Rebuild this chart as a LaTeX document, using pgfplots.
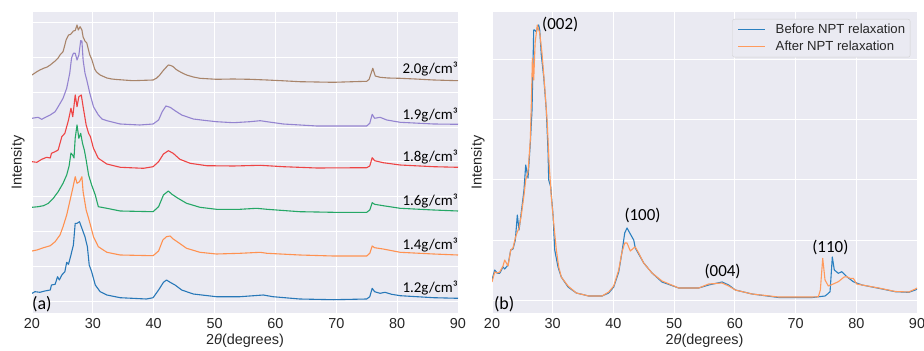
\documentclass[border=0pt]{standalone}
\usepackage{pgfplots}
\pgfplotsset{compat=1.18}
\usepackage{fontspec}
\setmainfont{Liberation Sans}
\newfontfamily\carlito{Carlito}
\definecolor{bgcol}{HTML}{EAEAF2}
\definecolor{cblue}{HTML}{2878B8}
\definecolor{corange}{HTML}{FF9150}
\definecolor{cgreen}{HTML}{25A766}
\definecolor{cred}{HTML}{EE4444}
\definecolor{cpurple}{HTML}{9484D0}
\definecolor{cbrown}{HTML}{A8846A}
\definecolor{rblue}{HTML}{2A80C0}
\definecolor{rorange}{HTML}{FF9A5C}
\definecolor{txt}{HTML}{262626}
\pgfplotsset{
  xrdstyle/.style={
    scale only axis, width=426bp, height=301bp,
    xmin=20, xmax=90, xtick={20,30,...,90},
    axis background/.style={fill=bgcol},
    grid=major, major grid style={white, line width=1bp},
    axis line style={draw=none},
    major tick length=0pt,
    yticklabels={},
    /pgf/number format/assume math mode=true,
    tick label style={font=\fontsize{14.5}{16}\selectfont, text=txt},
    xticklabel style={yshift=-2bp},
    label style={font=\fontsize{14.5}{16}\selectfont, text=txt},
    xlabel={2\textit{θ}(degrees)},
    ylabel={Intensity},
    xlabel style={yshift=2bp},
    ylabel style={yshift=-3bp},
    every axis plot/.append style={line width=1.1bp, mark=none, line join=round},
    clip=true,
  }
}
\begin{document}
\begin{tikzpicture}[x=1bp,y=1bp]
\useasboundingbox (0,0) rectangle (924,350);
% ---------------- left panel ----------------
\begin{axis}[xrdstyle, at={(32bp,37bp)}, anchor=south west,
  ymin=0, ymax=301, ytick={11.9,46.7,81.5,116.3,151.1,185.9,220.7,255.5,290.3}]
\addplot[cblue] coordinates {(20,19.7) (20.5,21.3) (21.3,20.7) (22.1,22) (23,23) (23.2,28) (23.8,28.7) (24.2,36.3) (24.5,33) (24.9,38) (25.4,41.3) (25.7,50.7) (26,48.7) (26.4,58) (26.8,68) (27.1,89.7) (27.4,89.7) (27.8,91.3) (28.2,84.7) (28.7,76.3) (29.1,66.3) (29.4,48) (29.8,41.3) (30.4,28) (31.2,21.3) (32.3,18) (34.5,15.3) (38.8,14) (39.9,15.3) (40.8,23) (41.6,30.7) (42.1,33) (42.7,30.7) (43.5,28) (44.6,23) (46.5,19) (50.3,16.3) (54.2,16.3) (58,18) (59.6,16.3) (64,14) (69.5,13.3) (75,14) (75.5,16.3) (75.9,24.7) (76.3,21.3) (77.2,19.7) (78,20.7) (79.1,18.7) (80.5,17.3) (86,15.3) (90,14.7)};
\addplot[corange] coordinates {(20,62) (20.8,63) (21.9,65.3) (23,67.3) (23.8,71.3) (24.6,78) (25.1,86.3) (25.7,98) (26.2,111.3) (26.7,124.7) (27.1,136.3) (27.4,129.7) (27.8,131.3) (28.2,136.3) (28.4,121.3) (28.9,103) (29.3,94.7) (29.6,88) (30.1,76.3) (30.9,66.3) (32.3,60.7) (34.5,58) (39.9,57.3) (40.8,62) (41.5,73) (42.1,76.3) (42.7,77) (43.2,74) (44,70.7) (45.4,64.7) (47.6,60.7) (50.3,59) (54.2,59.7) (57.5,60.7) (58.6,59.7) (64,58) (69.5,57) (75,57) (75.5,59.7) (75.9,67) (76.3,65.3) (77.7,64) (80.5,60.7) (86,59) (90,58)};
\addplot[cgreen] coordinates {(20,105.7) (21,106.3) (21.9,107.3) (22.7,109.7) (23.5,114.7) (24.3,121.3) (25.1,129.7) (25.7,138) (26.1,147) (26.4,160) (26.7,157.7) (26.9,155) (27.1,175) (27.4,188) (27.7,174.7) (28.0,179.7) (28.3,169.7) (28.6,163) (28.9,153) (29.3,138) (29.8,128) (30.4,118) (30.9,106.3) (32.3,104.7) (34.5,102) (39.9,101.3) (40.8,106.3) (41.6,118) (42.4,122) (43,118.7) (44,114.7) (45.4,109.7) (47.6,105.7) (50.3,103.7) (54.2,103.7) (56.9,104.7) (58.6,103.7) (64,101.3) (69.5,100.7) (75,100.7) (75.5,103) (75.9,110.3) (76.3,108.7) (77.7,107.3) (80.5,104.7) (86,103) (90,102)};
\addplot[cred] coordinates {(20,151.3) (20.8,150.7) (21.6,153.7) (22.4,155.7) (23,155) (23.2,159.7) (23.8,161.3) (24.3,163) (24.9,176.3) (25.4,179.7) (26,193) (26.4,204.7) (26.7,196.3) (27.1,218) (27.4,206.3) (27.7,216.3) (28.1,218) (28.4,206.3) (28.9,188) (29.3,179.7) (29.6,176.3) (30.1,164.7) (30.9,154.7) (32.3,149) (34.5,145.7) (38.3,144.7) (39.9,146.3) (40.8,151.3) (41.6,159) (42.4,162.3) (43.2,159.7) (44.3,153.7) (46,149.7) (48.7,147.3) (53.1,147) (57.5,147.7) (61.3,146.3) (66.8,145) (75,145.3) (75.5,147) (75.9,155.3) (76.3,152.3) (77.7,150.3) (80.5,148) (86,146.3) (90,145.7)};
\addplot[cpurple] coordinates {(20,194.7) (21,195.7) (21.6,193.7) (22.4,196.3) (23,198) (23.8,201.3) (24.3,206.3) (25.1,214.7) (25.7,224.7) (26.2,239.7) (26.5,255) (26.8,259.7) (27.1,259.7) (27.4,253) (27.7,258) (28.0,272.3) (28.2,272) (28.4,253) (28.7,240) (29,233) (29.5,219.7) (30.1,206.3) (30.9,198) (31.5,194) (32.3,192.3) (34.5,189) (37.7,188) (39.9,189) (40.8,193) (41.4,201.3) (42,207) (42.7,205.7) (43.5,202.3) (44.6,198) (46.5,194) (48.5,192.5) (50.3,191.3) (53.1,190.3) (55.8,191.3) (57.5,192.3) (58.6,191.3) (61.3,189) (66.8,187) (75,187) (75.5,189.7) (75.9,198.7) (76.3,194.7) (77.2,195.7) (78.3,193) (80.5,190.7) (86,189) (90,188.7)};
\addplot[cbrown] coordinates {(20,238) (20.8,241.3) (21.3,243) (21.9,244.7) (22.5,246) (23,248) (23.8,252) (24.3,255) (24.6,258) (25.1,261.3) (25.4,268) (25.6,273) (26.0,278) (26.3,278.5) (26.5,279.7) (26.8,282) (27.1,282.5) (27.4,288) (27.6,283) (27.9,286.3) (28.2,283) (28.4,276) (28.7,272) (29.0,270) (29.5,258) (29.8,254) (30.3,244) (30.6,241) (31.2,238) (32.3,235) (33.1,234) (33.9,233.5) (36.6,232.3) (39.9,233) (40.5,235) (41,238) (41.5,242) (41.9,244.7) (42.4,248) (42.8,247.5) (43.2,246.3) (43.6,244) (44,242.3) (44.7,240) (45.4,238) (46.5,236) (47.6,234.7) (50.3,233.7) (53,234) (55.8,233.7) (58.6,233) (61,232.3) (64,231.3) (69.5,230.7) (75,231.7) (75.4,233.7) (76,244.7) (76.4,237) (77.2,235.7) (78.5,235) (80.5,234.7) (83,234) (86,233) (90,232.3)};
\begin{scope}[every node/.style={inner sep=0pt, font=\carlito\fontsize{15}{17}\selectfont, anchor=base east}]
\node at (axis cs:90,239) {2.0g/cm³};
\node at (axis cs:90,193.7) {1.9g/cm³};
\node at (axis cs:90,151.3) {1.8g/cm³};
\node at (axis cs:90,108) {1.6g/cm³};
\node at (axis cs:90,64) {1.4g/cm³};
\node at (axis cs:90,20.7) {1.2g/cm³};
\end{scope}
\node[inner sep=0pt, anchor=west, font=\carlito\fontsize{18}{20}\selectfont] at (axis cs:20,8.5) {(a)};
\end{axis}
% ---------------- right panel ----------------
\begin{axis}[xrdstyle, at={(492bp,37bp)}, anchor=south west, width=425bp,
  ymin=0, ymax=301, ytick={13,73,133,193,253},
  legend style={at={(1,1)}, anchor=north east, xshift=-6.7bp, yshift=-7bp,
    fill=bgcol, draw=black!18, rounded corners=2bp,
    font=\fontsize{13.2}{15}\selectfont, text=txt,
    inner xsep=5bp, inner ysep=4bp, row sep=4bp, column sep=0bp,
    nodes={inner sep=0pt, text height=10bp, text depth=3bp},
    cells={anchor=west}},
  legend image code/.code={\draw[#1, line width=1.3bp] (0bp,0bp) -- (27bp,0bp); \path (37bp,0bp);}]
\addplot[rblue] coordinates {(20,33) (20.44,43) (20.87,39.7) (21.27,39.7) (21.81,46) (22.09,44) (22.64,48) (23.08,63) (23.46,64) (23.84,73) (24.17,98) (24.45,83) (24.83,101) (25.27,123) (25.55,148) (25.93,135) (26.31,170) (26.59,203) (26.87,283) (27.03,283) (27.3,281) (27.5,286) (27.69,288) (27.86,283) (28.12,258) (28.52,236) (28.94,203) (29.22,163) (29.34,133) (29.67,126) (30.05,98) (30.33,63) (30.87,46) (31.41,36) (32.52,26) (33.89,20) (35.93,17) (38.12,17) (39.22,20) (40.05,26) (40.87,41) (41.41,61) (41.86,80) (42.24,85) (42.78,79) (43.34,73) (43.6,65) (44.99,50) (46.35,40) (48,31) (50.75,25) (54.05,25) (55.69,28) (57.89,31) (58.99,28) (60.08,23) (62.83,19) (67.22,15.5) (72.71,15.5) (74.85,17) (75.4,19.7) (75.68,21.3) (76.05,56) (76.38,43) (77.04,39.7) (77.6,41.3) (78.43,36.3) (79.51,31.3) (80.95,28) (83.7,24.7) (86.43,21.3) (88.64,20.7) (89.73,23) (90,24)};
\addlegendentry{Before NPT relaxation}
\addplot[rorange] coordinates {(20,31) (20.44,41) (20.87,40) (21.27,41) (21.81,47) (22.09,53) (22.64,47) (23.08,63) (23.46,65) (23.84,75) (24.17,81) (24.45,85) (24.83,98) (25.27,118) (25.55,133) (25.93,141) (26.31,173) (26.5,215) (26.65,255) (26.87,233) (27.1,270) (27.46,288) (27.86,280) (28.23,260) (28.68,226) (29.1,190) (29.4,150) (29.77,116) (30.16,90) (30.6,63) (30.99,46) (31.41,36) (32.52,27) (33.89,20) (35.93,17) (38.12,17) (39.22,21) (40.05,27) (40.87,43) (41.41,61) (41.86,70) (42.24,70) (42.78,62) (43.34,65) (43.6,66) (44.16,60) (44.99,50) (46.35,40) (48,32) (50.75,25) (54.05,25) (55.69,29) (57.89,30) (58.99,27) (60.08,23) (62.83,19) (67.22,16) (72.71,16) (73.75,16.3) (74.08,23) (74.47,54.7) (74.85,33) (75.4,27) (76.2,29) (77.04,31.3) (78.0,36) (78.43,36.3) (78.97,34.7) (79.51,34.7) (80.07,29) (80.95,28) (83.7,25) (86.43,21.5) (88.64,21) (89.73,24) (90,25)};
\addlegendentry{After NPT relaxation}
\begin{scope}[every node/.style={inner sep=0pt, font=\carlito\fontsize{17}{19}\selectfont}]
\node[anchor=west] at (axis cs:28.24,289) {(002)};
\node at (axis cs:44.79,98) {(100)};
\node at (axis cs:57.97,41.5) {(004)};
\node at (axis cs:75.73,65.5) {(110)};
\end{scope}
\node[inner sep=0pt, anchor=west, font=\carlito\fontsize{18}{20}\selectfont] at (axis cs:20.3,8.5) {(b)};
\end{axis}
\end{tikzpicture}
\end{document}
